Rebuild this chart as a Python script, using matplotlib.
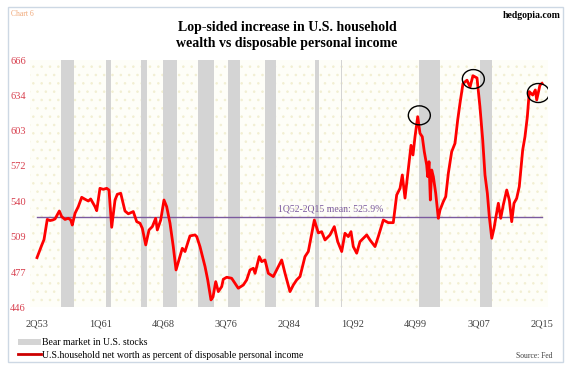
import matplotlib
matplotlib.use("Agg")
import matplotlib.pyplot as plt
from matplotlib.patches import Rectangle, Ellipse, Patch
from matplotlib.lines import Line2D

# ---------------- data ----------------
years = [1953.25, 1953.83, 1954.11, 1954.51, 1954.85, 1955.18, 1955.46, 1955.99, 1956.28, 1956.69,
         1957.09, 1957.39, 1957.58, 1957.92, 1958.32, 1958.74, 1959.14, 1959.55, 1959.84, 1960.37,
         1960.58, 1960.98, 1961.39, 1961.81, 1962.09, 1962.42, 1962.83, 1963.11, 1963.53, 1964.05,
         1964.46, 1965.07, 1965.49, 1965.90, 1966.18, 1966.60, 1967.00, 1967.41, 1967.82, 1968.02,
         1968.44, 1968.84, 1969.17, 1969.58, 1969.98, 1970.32, 1970.68, 1971.09, 1971.42, 1972.03,
         1972.65, 1972.86, 1973.26, 1973.88, 1974.21, 1974.61, 1974.86, 1975.19, 1975.51, 1975.93,
         1976.12, 1976.54, 1977.15, 1977.96, 1978.58, 1978.99, 1979.40, 1979.81, 1980.02, 1980.54,
         1980.84, 1981.24, 1981.65, 1982.26, 1982.88, 1983.29, 1983.70, 1984.31, 1984.72, 1985.13,
         1985.54, 1986.15, 1986.56, 1987.30, 1987.79, 1988.20, 1988.61, 1989.22, 1989.75, 1990.17,
         1990.66, 1991.06, 1991.47, 1991.80, 1992.08, 1992.50, 1992.90, 1993.31, 1993.73, 1994.13,
         1994.75, 1995.15, 1995.77, 1996.38, 1996.99, 1997.41, 1997.82, 1998.10, 1998.43, 1998.80,
         1999.17, 1999.41, 1999.66, 1999.99, 2000.27, 2000.55, 2000.80, 2001.09, 2001.22, 2001.38,
         2001.54, 2001.71, 2001.91, 2002.20, 2002.52, 2002.73, 2003.13, 2003.43, 2003.75, 2004.16,
         2004.57, 2004.90, 2005.18, 2005.55, 2006.04, 2006.42, 2006.77, 2007.27, 2007.63, 2007.97,
         2008.25, 2008.54, 2008.78, 2009.08, 2009.36, 2009.60, 2009.89, 2010.18, 2010.50, 2010.92,
         2011.24, 2011.53, 2011.81, 2012.14, 2012.46, 2012.88, 2013.16, 2013.45, 2013.69, 2014.11,
         2014.43, 2014.60, 2015.00, 2015.25]
net_worth_pct = [490.0, 501.0, 506.0, 524.0, 523.0, 523.5, 524.4, 531.5, 526.5, 524.0,
                 525.0, 523.5, 519.0, 529.5, 535.4, 543.7, 542.0, 540.4, 542.2, 535.4,
                 531.8, 551.7, 550.8, 551.7, 550.2, 517.0, 541.3, 546.4, 547.3, 531.5,
                 529.0, 531.0, 522.0, 520.6, 516.1, 501.3, 514.6, 517.6, 525.0, 514.6,
                 523.5, 541.3, 535.4, 520.6, 499.8, 479.0, 487.9, 498.3, 495.4, 509.3,
                 510.2, 508.7, 499.8, 482.0, 470.1, 452.3, 455.0, 468.6, 459.7, 464.2,
                 470.7, 472.5, 471.6, 462.7, 465.6, 470.1, 479.0, 480.5, 476.0, 490.9,
                 486.4, 487.9, 476.0, 473.1, 482.0, 487.9, 476.0, 459.7, 465.6, 470.1,
                 473.1, 490.9, 495.4, 523.5, 512.0, 513.1, 505.7, 510.2, 517.6, 504.2,
                 495.4, 511.7, 508.7, 513.1, 499.8, 493.9, 504.2, 507.2, 510.2, 505.7,
                 499.8, 508.7, 523.5, 521.1, 521.1, 545.8, 551.7, 563.6, 543.0, 566.5,
                 590.0, 581.4, 597.7, 615.5, 600.7, 597.7, 584.3, 572.5, 562.1, 575.4,
                 541.3, 568.0, 562.1, 547.3, 525.0, 532.4, 539.8, 544.3, 565.1, 584.3,
                 591.8, 612.6, 627.4, 645.0, 648.0, 642.0, 652.0, 650.0, 624.4, 594.8,
                 563.6, 547.3, 526.5, 507.2, 516.1, 526.5, 538.4, 525.0, 537.0, 550.2,
                 541.3, 522.0, 538.4, 542.8, 553.2, 585.9, 597.7, 615.5, 637.8, 634.8,
                 639.3, 630.4, 643.7, 645.2]

bear_start = [1956.20, 1961.72, 1966.02, 1968.72, 1973.02, 1976.70, 1981.24, 1987.38, 1990.57, 2000.14, 2007.63]
bear_end   = [1957.79, 1962.34, 1966.75, 1970.44, 1974.98, 1978.17, 1982.59, 1987.87, 1990.70, 2002.72, 2009.10]

mean_value = 525.9
mean_label = "1Q52-2Q15 mean: 525.9%"

xtick_pos = [1953.25, 1961.0, 1968.75, 1976.5, 1984.25, 1992.0, 1999.75, 2007.5, 2015.25]
xtick_labels = ["2Q53", "1Q61", "4Q68", "3Q76", "2Q84", "1Q92", "4Q99", "3Q07", "2Q15"]
ytick_vals = [446, 477, 509, 540, 572, 603, 634, 666]

circle_years = [2000.19, 2006.82, 2014.80]
circle_vals = [616.7, 649.0, 636.6]

# ---------------- figure ----------------
plt.rcParams['font.family'] = ['Liberation Serif', 'DejaVu Serif']
plt.rcParams['hatch.linewidth'] = 0.6
W, H = 570, 365
fig = plt.figure(figsize=(W / 100, H / 100), dpi=100)
fig.patch.set_facecolor('white')

# outer frame
fig.add_artist(Rectangle((8 / W, 3 / H), 555 / W, 355 / H, transform=fig.transFigure,
                         fill=False, edgecolor='#cdd8e4', linewidth=1.0))

ax_l, ax_r, ax_t, ax_b = 30, 548, 60, 307
ax = fig.add_axes([ax_l / W, 1 - ax_b / H, (ax_r - ax_l) / W, (ax_b - ax_t) / H])
ax.set_facecolor('#fefef8')
ax.add_patch(Rectangle((0, 0), 1, 1, transform=ax.transAxes, facecolor='none',
                       edgecolor='#f2efd2', hatch='..', lw=0, zorder=0))
for s in ax.spines.values():
    s.set_visible(False)

px_per_year = (542 - 37) / (2015.25 - 1953.25)
ax.set_xlim(1953.25 - 7 / px_per_year, 2015.25 + 6 / px_per_year)
ax.set_ylim(446, 666)

for s0, s1 in zip(bear_start, bear_end):
    ax.axvspan(s0, s1, color='#d4d4d4', lw=0, zorder=1)

ax.plot([years[0], years[-1]], [mean_value, mean_value], color='#7b5a9e', lw=1.0, zorder=2)
ax.text(1989.3, mean_value + 3.5, mean_label, color='#7b5a9e', fontsize=7, ha='center',
        va='bottom', zorder=3)

ax.plot(years, net_worth_pct, color='#ff0000', lw=2.0, zorder=4, solid_joinstyle='round')

for cx, cy in zip(circle_years, circle_vals):
    ax.add_patch(Ellipse((cx, cy), 22 / px_per_year, 19 / ((ax_b - ax_t) / 220.0),
                         fill=False, edgecolor='black', lw=1.0, zorder=5))

ax.set_xticks(xtick_pos)
ax.set_xticklabels(xtick_labels, fontsize=7.5, color='#404040')
ax.set_yticks(ytick_vals)
ax.set_yticklabels([str(v) for v in ytick_vals], fontsize=7.5, color='#d8404f')
ax.tick_params(axis='both', length=0)
ax.tick_params(axis='y', pad=3)
ax.tick_params(axis='x', pad=9)

# titles / texts
fig.text(287 / W, 1 - 27 / H, "Lop-sided increase in U.S. household", fontsize=10,
         fontweight='bold', ha='center', va='center')
fig.text(287 / W, 1 - 44 / H, "wealth vs disposable personal income", fontsize=10,
         fontweight='bold', ha='center', va='center')
fig.text(11 / W, 1 - 14 / H, "Chart 6", fontsize=5.5, color='#f0a878', ha='left', va='center')
fig.text(561 / W, 1 - 15 / H, "hedgopia.com", fontsize=7, fontweight='bold', ha='right',
         va='center')
fig.text(553 / W, 1 - 356 / H, "Source: Fed", fontsize=5.5, color='#404040', ha='right',
         va='center')

handles = [Patch(facecolor='#d4d4d4', edgecolor='none'),
           Line2D([0], [0], color='#cc0000', lw=2)]
labels = ["Bear market in U.S. stocks",
          "U.S.household net worth as percent of disposable personal income"]
fig.legend(handles, labels, loc='center left', bbox_to_anchor=(18 / W, 1 - 349 / H),
           frameon=False, fontsize=7, handlelength=2.4, handleheight=0.5,
           handletextpad=0.1, labelspacing=0.25, borderpad=0, borderaxespad=0)

fig.savefig('out.png', dpi=100)
